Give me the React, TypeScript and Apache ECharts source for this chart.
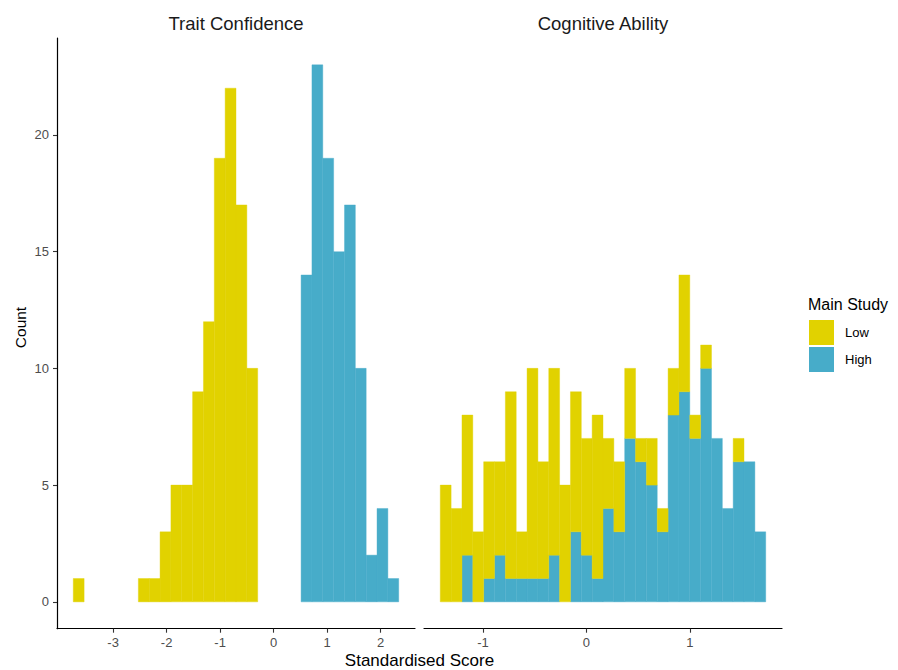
import React, { useEffect, useRef } from "react";
import * as echarts from "echarts";

// Histogram bins (30 bins per panel)
const traitBinStart = -3.745;
const traitBinWidth = 0.2028;
const cogBinStart = -1.413;
const cogBinWidth = 0.10487;

const traitLow = [1, 0, 0, 0, 0, 0, 1, 1, 3, 5, 5, 9, 12, 19, 22, 17, 10, 0, 0, 0, 0, 0, 0, 0, 0, 0, 0, 0, 0, 0];
const traitHigh = [0, 0, 0, 0, 0, 0, 0, 0, 0, 0, 0, 0, 0, 0, 0, 0, 0, 0, 0, 0, 0, 14, 23, 19, 15, 17, 10, 2, 4, 1];
const cogLow = [5, 4, 6, 3, 5, 4, 8, 2, 9, 5, 8, 5, 6, 5, 7, 3, 3, 3, 1, 2, 1, 2, 5, 1, 1, 0, 0, 1, 0, 0];
const cogHigh = [0, 0, 2, 0, 1, 2, 1, 1, 1, 1, 2, 0, 3, 2, 1, 4, 3, 7, 6, 5, 3, 8, 9, 7, 10, 7, 4, 6, 6, 3];

const yTicks = [0, 5, 10, 15, 20];
const traitXTicks = [-3, -2, -1, 0, 1, 2];
const cogXTicks = [-1, 0, 1];
const groups = ["Low", "High"];
const facetTitles = ["Trait Confidence", "Cognitive Ability"];

const COLORS: Record<string, string> = { Low: "#E1D200", High: "#47ACC9" };
const FONT = "'Liberation Sans', Arial, Helvetica, sans-serif";

// stacked: High at bottom, Low on top
function buildRects(start: number, width: number, low: number[], high: number[]) {
  const lowRects: number[][] = [];
  const highRects: number[][] = [];
  for (let i = 0; i < low.length; i++) {
    const x0 = start + i * width;
    const x1 = x0 + width;
    if (high[i] > 0) highRects.push([x0, x1, 0, high[i]]);
    if (low[i] > 0) lowRects.push([x0, x1, high[i], high[i] + low[i]]);
  }
  return { lowRects, highRects };
}

function expand(lo: number, hi: number) {
  const d = (hi - lo) * 0.05;
  return [lo - d, hi + d];
}

export default function App() {
  const ref = useRef<HTMLDivElement>(null);
  useEffect(() => {
    if (!ref.current) return;
    const chart = echarts.init(ref.current, undefined, { renderer: "svg" });

    const trait = buildRects(traitBinStart, traitBinWidth, traitLow, traitHigh);
    const cog = buildRects(cogBinStart, cogBinWidth, cogLow, cogHigh);
    const maxCount = Math.max(
      ...traitLow.map((v, i) => v + traitHigh[i]),
      ...cogLow.map((v, i) => v + cogHigh[i])
    );
    const yR = expand(0, maxCount);
    const tR = expand(traitBinStart, traitBinStart + traitBinWidth * traitLow.length);
    const cR = expand(cogBinStart, cogBinStart + cogBinWidth * cogLow.length);

    const renderItem = (color: string) => (params: any, api: any) => {
      const x0 = api.value(0), x1 = api.value(1), y0 = api.value(2), y1 = api.value(3);
      const p0 = api.coord([x0, y1]);
      const p1 = api.coord([x1, y0]);
      return {
        type: "rect",
        shape: { x: p0[0], y: p0[1], width: p1[0] - p0[0], height: p1[1] - p0[1] },
        style: { fill: color, stroke: color, lineWidth: 0.4 },
      };
    };

    const mkSeries = (name: string, data: number[][], idx: number) => ({
      type: "custom",
      name,
      xAxisIndex: idx,
      yAxisIndex: idx,
      itemStyle: { color: COLORS[name] },
      encode: { x: [0, 1], y: [2, 3] },
      renderItem: renderItem(COLORS[name]),
      data,
    });

    const axisLine = { show: true, onZero: false, lineStyle: { color: "#000", width: 1.2 } };
    const axisTick = (vals: number[]) => ({
      show: true,
      length: 4,
      customValues: vals,
      lineStyle: { color: "#333", width: 1.1 },
    });
    const axisLabel = (vals: number[], margin: number) => ({
      show: true,
      customValues: vals,
      color: "#4D4D4D",
      fontSize: 13,
      fontFamily: FONT,
      margin,
    });

    const grids = [
      { left: 57, top: 38, width: 358, height: 590.7, outerBoundsMode: "none", containLabel: false },
      { left: 424, top: 38, width: 358, height: 590.7, outerBoundsMode: "none", containLabel: false },
    ];

    chart.setOption({
      animation: false,
      backgroundColor: "#fff",
      grid: grids,
      xAxis: [
        {
          type: "value", gridIndex: 0, min: tR[0], max: tR[1],
          axisLine, axisTick: axisTick(traitXTicks), axisLabel: axisLabel(traitXTicks, 7),
          splitLine: { show: false },
        },
        {
          type: "value", gridIndex: 1, min: cR[0], max: cR[1],
          axisLine, axisTick: axisTick(cogXTicks), axisLabel: axisLabel(cogXTicks, 7),
          splitLine: { show: false },
        },
      ],
      yAxis: [
        {
          type: "value", gridIndex: 0, min: yR[0], max: yR[1],
          axisLine, axisTick: axisTick(yTicks), axisLabel: axisLabel(yTicks, 8),
          splitLine: { show: false },
        },
        {
          type: "value", gridIndex: 1, min: yR[0], max: yR[1],
          axisLine: { show: false, onZero: false }, axisTick: { show: false }, axisLabel: { show: false },
          splitLine: { show: false },
        },
      ],
      legend: {
        orient: "vertical",
        left: 809,
        top: 320,
        padding: 0,
        itemWidth: 25,
        itemHeight: 25,
        itemGap: 2,
        icon: "rect",
        selectedMode: false,
        data: groups,
        textStyle: { fontSize: 13, color: "#000", fontFamily: FONT, padding: [0, 0, 0, 6] },
      },
      graphic: [
        {
          type: "text", x: 236, y: 23,
          style: { text: facetTitles[0], fontSize: 18.5, fontFamily: FONT, fill: "#1A1A1A", textAlign: "center", textVerticalAlign: "middle" },
        },
        {
          type: "text", x: 603, y: 23,
          style: { text: facetTitles[1], fontSize: 18.5, fontFamily: FONT, fill: "#1A1A1A", textAlign: "center", textVerticalAlign: "middle" },
        },
        {
          type: "text", x: 419.5, y: 660,
          style: { text: "Standardised Score", fontSize: 17, fontFamily: FONT, fill: "#000", textAlign: "center", textVerticalAlign: "middle" },
        },
        {
          type: "text", x: 20, y: 327.5, rotation: Math.PI / 2,
          style: { text: "Count", fontSize: 15.5, fontFamily: FONT, fill: "#000", textAlign: "center", textVerticalAlign: "middle" },
        },
        {
          type: "text", x: 808, y: 304,
          style: { text: "Main Study", fontSize: 16, fontFamily: FONT, fill: "#000", textAlign: "left", textVerticalAlign: "middle" },
        },
      ],
      series: [
        mkSeries("High", trait.highRects, 0),
        mkSeries("Low", trait.lowRects, 0),
        mkSeries("High", cog.highRects, 1),
        mkSeries("Low", cog.lowRects, 1),
      ],
    });

    return () => chart.dispose();
  }, []);

  return (
    <div
      ref={ref}
      style={{ position: "fixed", left: 0, top: 0, width: 898, height: 670 }}
    />
  );
}
